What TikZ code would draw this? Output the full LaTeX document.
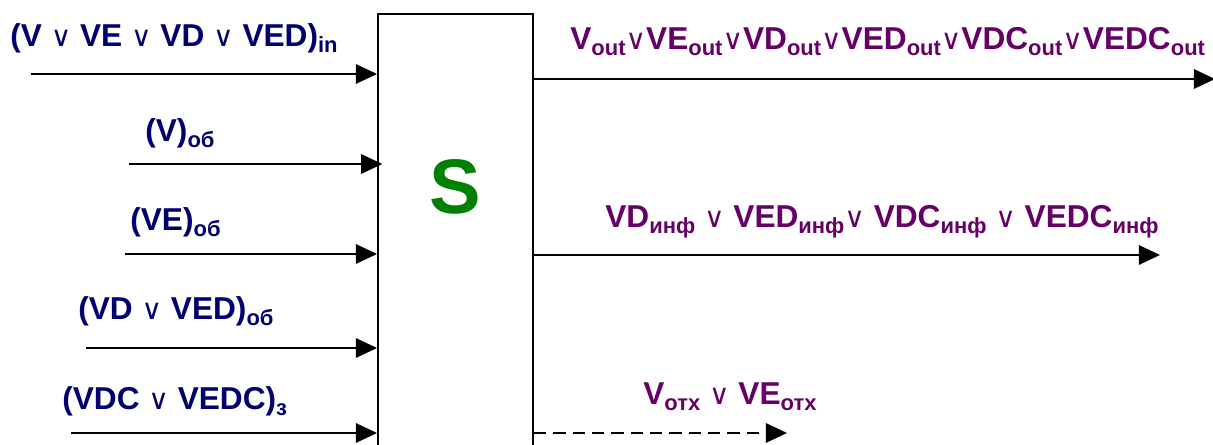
\documentclass[tikz,border=0pt]{standalone}
\usepackage{fontspec}
\setmainfont{Liberation Sans}
\newfontfamily\symfont{DejaVu Sans}
\usepackage{tikz}
\usetikzlibrary{arrows.meta, positioning, calc}
\definecolor{mynavy}{RGB}{0,0,110}
\definecolor{mypurple}{RGB}{102,0,102}
\definecolor{mygreen}{RGB}{0,128,0}
\newcommand{\orsym}{{\symfont\mdseries\fontsize{16}{16}\selectfont ∨}}
\newcommand{\idx}[1]{\raisebox{-3.2pt}{\fontsize{12.5}{12.5}\selectfont #1}}
\tikzset{
  inlabel/.style={font=\fontsize{18}{18}\selectfont\bfseries, text=mynavy,
    inner sep=0pt, anchor=base west},
  outlabel/.style={font=\fontsize{18}{18}\selectfont\bfseries, text=mypurple,
    inner sep=0pt, anchor=base west},
  sbox/.style={rectangle, draw, line width=1.1pt, minimum width=3.1cm,
    minimum height=9.2cm, inner sep=0pt},
  arrow/.style={-{Triangle[length=12pt,width=11pt]}, line width=1.1pt},
  dasharrow/.style={arrow, dash pattern=on 7pt off 4pt}
}

\begin{document}
\begin{tikzpicture}[x=0.02cm, y=-0.02cm]
  \useasboundingbox (0,0) rectangle (1213,445);

  % Block S
  \node[sbox] (box) at (455.5,244) {};
  \node[font=\fontsize{44}{44}\selectfont\bfseries, text=mygreen] (sname) at (455,187) {S};

  % Inputs
  \coordinate (in1) at (31,74);
  \coordinate (in2) at (129,164);
  \coordinate (in3) at (125,254);
  \coordinate (in4) at (86,348);
  \coordinate (in5) at (71,433);
  \draw[arrow] (in1) -- (in1 -| box.west);
  \draw[arrow] (in2) -- ([xshift=3pt]in2 -| box.west);
  \draw[arrow] (in3) -- (in3 -| box.west);
  \draw[arrow] (in4) -- (in4 -| box.west);
  \draw[arrow] (in5) -- (in5 -| box.west);
  \node[inlabel] (lin1) at (10,47) {(V \orsym{} VE \orsym{} VD \orsym{} VED)\idx{in}};
  \node[inlabel] (lin2) at (145,142) {(V)\idx{об}};
  \node[inlabel] (lin3) at (130,231) {(VE)\idx{об}};
  \node[inlabel] (lin4) at (78,320) {(VD \orsym{} VED)\idx{об}};
  \node[inlabel] (lin5) at (62,410) {(VDC \orsym{} VEDC)\idx{з}};

  % Outputs
  \coordinate (out1) at (1215,79);
  \coordinate (out2) at (1160,255);
  \coordinate (out3) at (787,433);
  \draw[arrow] (box.east |- out1) -- (out1);
  \draw[arrow] (box.east |- out2) -- (out2);
  \draw[dasharrow] (box.east |- out3) -- (out3);
  \node[outlabel] (lout1) at (570,50)
    {V\idx{out}\orsym VE\idx{out}\orsym VD\idx{out}\orsym VED\idx{out}\orsym VDC\idx{out}\orsym VEDC\idx{out}};
  \node[outlabel] (lout2) at (605,228)
    {VD\idx{инф} \orsym{} VED\idx{инф}\orsym{} VDC\idx{инф} \orsym{} VEDC\idx{инф}};
  \node[outlabel] (lout3) at (643,405) {V\idx{отх} \orsym{} VE\idx{отх}};
\end{tikzpicture}
\end{document}
